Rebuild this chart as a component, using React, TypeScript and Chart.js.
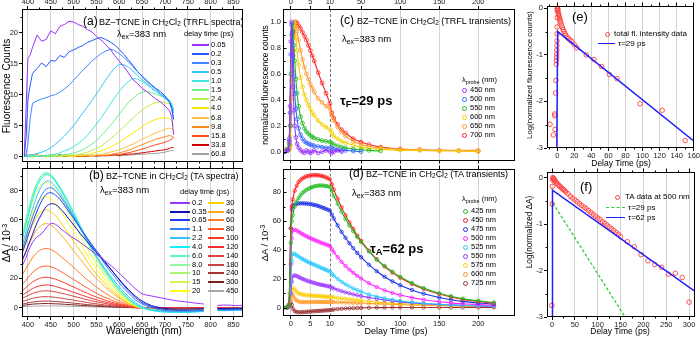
import React, { useEffect, useRef } from "react";
import { Chart, registerables } from "chart.js";

Chart.register(...registerables);

const FONT = "'Liberation Sans', Arial, Helvetica, sans-serif";
const GRID = "#d2d2d2";

// ---------------- (a) TRFL spectra ----------------
const WL_A = [392, 396, 400, 405, 410, 420, 430, 440, 450, 460, 470, 480, 490, 500, 510, 520, 530, 540, 550, 560, 570, 580, 590, 600, 610, 620, 630, 640, 650, 660, 670, 680, 690, 700, 710, 715, 719];
const FL_005 = [0.3, 8, 15.8, 16.4, 17.6, 19.6, 18.6, 18.9, 20.3, 19.8, 21.0, 21.3, 21.8, 21.7, 21.3, 21.0, 20.5, 20.1, 19.4, 18.8, 18.1, 17.3, 16.3, 15.4, 14.5, 13.5, 12.4, 11.8, 11.0, 10.5, 9.9, 9.3, 8.8, 8.2, 7.4, 6.4, 3.5];
const FL_02 = [0, 3.2, 9.2, 11.6, 13.4, 14.2, 15.1, 14.5, 15.5, 15.4, 16.3, 16.0, 16.9, 17.2, 17.6, 17.9, 18.4, 18.7, 19.0, 19.2, 18.9, 18.5, 18.0, 17.3, 16.5, 15.6, 14.7, 13.7, 13.0, 12.3, 11.6, 11.0, 10.5, 9.8, 8.9, 7.8, 6.0];
const FL_03 = [0, 0.4, 2.0, 6.2, 8.6, 9.0, 9.3, 9.5, 9.8, 10.0, 10.4, 10.9, 11.5, 12.3, 13.1, 13.9, 14.6, 15.4, 16.0, 16.6, 17.0, 17.3, 17.1, 16.6, 16.0, 15.3, 14.5, 13.7, 12.9, 12.1, 11.5, 10.9, 10.2, 9.6, 8.7, 7.6, 6.0];
const FL_05 = [0, 0.1, 0.2, 0.3, 0.3, 0.5, 0.7, 1.0, 1.4, 2.0, 2.6, 3.3, 4.1, 5.0, 6.0, 7.0, 8.0, 9.0, 10.1, 11.2, 12.3, 13.4, 14.3, 14.9, 14.8, 14.4, 13.8, 13.1, 12.4, 11.8, 11.2, 10.6, 10.0, 9.4, 8.8, 8.1, 7.0];
const FL_10 = [0, 0, 0.1, 0, 0.1, 0, 0.1, 0.1, 0.3, 0.4, 0.6, 0.9, 1.2, 1.6, 2.1, 2.7, 3.4, 4.3, 5.2, 6.2, 7.3, 8.4, 9.5, 10.5, 11.4, 12.1, 12.6, 12.5, 12.1, 11.6, 11.0, 10.5, 10.0, 9.6, 9.0, 8.3, 7.5];
const FL_15 = [0.2, 0, 0.1, -0.1, 0.2, 0, 0.1, 0.2, 0, 0.1, 0.2, 0.3, 0.4, 0.6, 0.8, 1.1, 1.5, 2.0, 2.6, 3.3, 4.1, 5.0, 5.9, 6.9, 7.8, 8.7, 9.4, 10.0, 10.4, 10.5, 10.3, 10.1, 9.8, 9.4, 9.0, 8.5, 7.5];
const FL_24 = [0.1, 0.3, 0, 0.2, -0.1, 0.1, 0.2, 0, 0.1, 0.2, 0, 0.1, 0.2, 0.2, 0.3, 0.5, 0.7, 1.0, 1.3, 1.7, 2.2, 2.8, 3.4, 4.1, 4.8, 5.5, 6.2, 6.9, 7.5, 8.0, 8.4, 8.7, 8.8, 8.7, 8.5, 8.0, 7.0];
const FL_40 = [0.2, 0, 0.3, 0.1, 0, 0.2, 0.1, -0.1, 0.2, 0, 0.1, 0.2, 0, 0.1, 0.2, 0.1, 0.3, 0.5, 0.7, 0.9, 1.2, 1.5, 1.9, 2.3, 2.8, 3.3, 3.8, 4.3, 4.8, 5.3, 5.7, 6.0, 6.2, 6.3, 6.1, 5.8, 5.0];
const FL_68 = [0, 0.2, 0.1, 0.3, 0, 0.1, 0.2, 0, 0.1, 0.3, 0, 0.2, 0.1, 0, 0.2, 0.1, 0.2, 0.1, 0.3, 0.3, 0.5, 0.7, 0.9, 1.1, 1.4, 1.7, 2.0, 2.4, 2.8, 3.1, 3.5, 3.8, 4.1, 4.4, 4.6, 4.5, 4.2];
const FL_98 = [0.3, 0.1, 0, 0.2, 0.3, 0, 0.2, 0.1, 0.3, 0, 0.2, 0.1, 0, 0.2, 0.1, 0.3, 0, 0.2, 0.1, 0.2, 0.2, 0.3, 0.5, 0.6, 0.8, 1.0, 1.3, 1.6, 1.9, 2.2, 2.5, 2.8, 3.0, 3.2, 3.4, 3.3, 3.0];
const FL_158 = [0.1, 0.3, 0.2, 0, 0.1, 0.3, 0, 0.2, 0.1, 0.2, 0, 0.3, 0.1, 0.2, 0, 0.1, 0.3, 0.1, 0.2, 0.1, 0.2, 0.2, 0.3, 0.3, 0.5, 0.6, 0.8, 1.0, 1.2, 1.4, 1.7, 1.9, 2.1, 2.3, 2.6, 2.8, 3.2];
const FL_338 = [0.2, 0, 0.1, 0.3, 0.1, 0.2, 0, 0.1, 0.2, 0.1, 0.3, 0, 0.2, 0.1, 0.2, 0, 0.1, 0.2, 0.1, 0.2, 0.1, 0.2, 0.3, 0.2, 0.3, 0.4, 0.4, 0.5, 0.6, 0.7, 0.8, 0.9, 1.0, 1.1, 1.3, 1.5, 1.4];
const FL_608 = [0, 0.1, 0, 0.2, 0, 0.1, 0, 0.1, 0, 0.1, 0.2, 0, 0.1, 0, 0.1, 0.2, 0, 0.1, 0, 0.1, 0.2, 0.1, 0.2, 0.1, 0.2, 0.2, 0.3, 0.3, 0.4, 0.4, 0.5, 0.5, 0.6, 0.7, 0.9, 1.0, 0.9];
const A_SERIES = [FL_005, FL_02, FL_03, FL_05, FL_10, FL_15, FL_24, FL_40, FL_68, FL_98, FL_158, FL_338, FL_608];
const A_LABELS = ["0.05", "0.2", "0.3", "0.5", "1.0", "1.5", "2.4", "4.0", "6.8", "9.8", "15.8", "33.8", "60.8"];
const A_COLORS = ["#9b30ff", "#1f5bff", "#3d8bff", "#33c4ff", "#3de8dd", "#6ef08a", "#b8f04a", "#f5ea00", "#ffc040", "#ff8c1a", "#ff4a1a", "#d00000", "#a0a0a0"];

// ---------------- (b) TA spectra ----------------
const WL_B = [388, 395, 400, 410, 420, 430, 440, 450, 460, 470, 480, 490, 500, 515, 530, 545, 560, 575, 590, 605, 620, 635, 650, 670, 690, 710, 730, 750, 770, 785, 800, 815, 835, 855, 871];
const ta_0p2 = [29, 33.5, 38, 44.5, 48.5, 50.5, 54.5, 57.5, 57, 54.5, 52, 49.5, 47.5, 44.5, 41, 37.5, 34, 30.5, 26.5, 22, 17.5, 13, 9.5, 8, 6.8, 5.5, 4.5, 3.8, 3, 2.5, null, 1.5, 1.8, 1.4, 1.6];
const ta_0p35 = [33, 38, 42, 50, 58, 64, 69, 71, 70.5, 68, 64.5, 60.5, 56.5, 50.5, 45, 39.5, 34, 28.5, 23, 17.5, 12.5, 8, 4.5, 1.5, 0, -0.8, -1, -1, -0.8, -0.8, null, -0.5, -0.6, -0.4, -0.5];
const ta_0p65 = [38, 44, 49, 58, 66, 73, 77.5, 78.6, 77, 74, 70, 65.5, 61, 54, 47.5, 41, 35, 29, 23, 17, 11.5, 7, 3.5, 0.8, -0.8, -1.5, -1.8, -1.8, -1.6, -1.5, null, -1, -1.1, -0.9, -1];
const ta_1p1 = [40, 47, 52.5, 62, 70.5, 77, 81, 82, 80, 76.5, 72, 67, 62, 54.5, 47, 40, 33.5, 27, 21, 15, 10, 5.5, 2.5, 0, -1.5, -2.2, -2.4, -2.4, -2.2, -2, null, -1.5, -1.6, -1.4, -1.4];
const ta_2p2 = [43, 51, 57, 67.5, 76.5, 83, 86.5, 86, 83, 78.5, 73.5, 68, 62.5, 54, 45.5, 37.5, 30.5, 24, 18, 12.5, 7.5, 3.5, 0.8, -1.3, -2.3, -2.8, -2.9, -2.9, -2.6, -2.4, null, -1.8, -1.9, -1.6, -1.6];
const ta_4p0 = [47, 56, 62.5, 74, 83, 88.5, 91, 90, 86.5, 81.5, 76.5, 70.5, 64.5, 55, 46, 37.5, 30, 23, 16.5, 11, 6.2, 2.5, 0, -1.8, -2.8, -3.1, -3.2, -3.2, -2.9, -2.7, null, -2, -2.1, -1.8, -1.8];
const ta_6p0 = [49, 58.5, 65.5, 76.5, 85, 90.5, 92.4, 91, 87.5, 82.5, 77.5, 71.5, 65.5, 56, 46.5, 38, 30, 23, 16.5, 10.8, 6, 2.3, -0.2, -1.8, -2.7, -3, -3.1, -3.1, -2.8, -2.6, null, -2, -2, -1.7, -1.7];
const ta_8p0 = [50, 59.5, 66, 77, 85.5, 90.5, 92, 90.5, 87, 82, 76.5, 70.5, 64.5, 55, 45.5, 37, 29, 22, 15.5, 10, 5.5, 2, -0.3, -1.7, -2.5, -2.8, -2.9, -2.9, -2.6, -2.4, null, -1.8, -1.8, -1.5, -1.5];
const ta_10 = [50, 59, 65.5, 76.5, 85, 90, 91.3, 89.5, 86, 81, 75.5, 69.5, 63.5, 54, 44.5, 36, 28, 21, 15, 9.5, 5, 1.8, -0.3, -1.6, -2.3, -2.6, -2.7, -2.6, -2.4, -2.2, null, -1.6, -1.7, -1.4, -1.4];
const ta_15 = [47, 55.5, 61.5, 72, 80, 84.5, 85.5, 84, 80.5, 75.5, 70, 64, 58.5, 49.5, 40.5, 32.5, 25.5, 19, 13.5, 8.5, 4.5, 1.5, -0.3, -1.4, -2, -2.3, -2.3, -2.2, -2, -1.9, null, -1.4, -1.4, -1.2, -1.2];
const ta_20 = [42, 49.5, 55, 64, 71, 75, 76, 74.5, 71.5, 67, 62, 57, 52, 44, 36, 28.5, 22.5, 16.5, 11.5, 7.5, 3.8, 1.2, -0.3, -1.2, -1.8, -2, -2, -1.9, -1.8, -1.7, null, -1.2, -1.2, -1, -1];
const ta_30 = [37, 43.5, 48.5, 56.5, 62.5, 66, 67, 65.5, 63, 59, 54.5, 50, 45.5, 38.5, 31.5, 25, 19.5, 14.5, 10, 6.3, 3.2, 1, -0.3, -1, -1.5, -1.7, -1.7, -1.6, -1.5, -1.4, null, -1, -1, -0.9, -0.9];
const ta_40 = [32, 37.5, 41.5, 48.5, 53.5, 56.5, 57.5, 56.5, 54, 50.5, 47, 43, 39, 33, 27, 21.5, 16.8, 12.5, 8.6, 5.4, 2.7, 0.8, -0.3, -0.9, -1.3, -1.4, -1.4, -1.4, -1.3, -1.2, null, -0.9, -0.9, -0.8, -0.8];
const ta_60 = [22.5, 26.5, 29, 34, 37.7, 39.8, 40.5, 39.8, 38, 35.5, 33, 30.2, 27.5, 23.2, 19, 15.2, 11.8, 8.8, 6, 3.8, 1.9, 0.5, -0.3, -0.7, -0.9, -1, -1, -1, -0.9, -0.9, null, -0.6, -0.6, -0.5, -0.5];
const ta_80 = [16, 18.5, 20.5, 24, 26.5, 28, 28.5, 28, 26.8, 25, 23.2, 21.2, 19.3, 16.3, 13.4, 10.7, 8.3, 6.2, 4.2, 2.7, 1.3, 0.3, -0.3, -0.5, -0.7, -0.7, -0.7, -0.7, -0.7, -0.6, null, -0.4, -0.4, -0.4, -0.4];
const ta_100 = [11.5, 13.5, 15, 17.5, 19.3, 20.4, 20.8, 20.4, 19.5, 18.3, 17, 15.5, 14.1, 11.9, 9.8, 7.8, 6.1, 4.5, 3.1, 2, 1, 0.2, -0.2, -0.4, -0.5, -0.5, -0.5, -0.5, -0.5, -0.4, null, -0.3, -0.3, -0.3, -0.3];
const ta_120 = [8.6, 10, 11.1, 13, 14.4, 15.2, 15.5, 15.2, 14.5, 13.6, 12.6, 11.6, 10.5, 8.9, 7.3, 5.8, 4.5, 3.4, 2.3, 1.5, 0.7, 0.1, -0.2, -0.3, -0.4, -0.4, -0.4, -0.4, -0.4, -0.3, null, -0.3, -0.3, -0.2, -0.2];
const ta_140 = [6.4, 7.5, 8.3, 9.7, 10.7, 11.3, 11.5, 11.3, 10.8, 10.1, 9.4, 8.6, 7.8, 6.6, 5.4, 4.3, 3.4, 2.5, 1.7, 1.1, 0.5, 0.1, -0.1, -0.2, -0.3, -0.3, -0.3, -0.3, -0.3, -0.2, null, -0.2, -0.2, -0.2, -0.2];
const ta_180 = [4.2, 4.9, 5.4, 6.3, 7, 7.4, 7.5, 7.4, 7, 6.6, 6.1, 5.6, 5.1, 4.3, 3.5, 2.8, 2.2, 1.6, 1.1, 0.7, 0.3, 0, -0.1, -0.1, -0.2, -0.2, -0.2, -0.2, -0.2, -0.1, null, -0.1, -0.1, -0.1, -0.1];
const ta_240 = [2.5, 2.9, 3.2, 3.8, 4.2, 4.4, 4.5, 4.4, 4.2, 4, 3.7, 3.4, 3.1, 2.6, 2.1, 1.7, 1.3, 1, 0.7, 0.4, 0.2, 0, 0, -0.1, -0.1, -0.1, -0.1, -0.1, -0.1, -0.1, null, 0, -0.1, 0, 0];
const ta_300 = [1.6, 1.8, 2, 2.4, 2.6, 2.75, 2.8, 2.75, 2.6, 2.5, 2.3, 2.1, 1.9, 1.6, 1.3, 1.1, 0.8, 0.6, 0.4, 0.3, 0.1, 0, 0, 0, 0, 0, 0, 0, 0, 0, null, 0, 0, 0, 0];
const ta_450 = [0.7, 0.8, 0.9, 1, 1.1, 1.2, 1.2, 1.2, 1.1, 1.1, 1, 0.9, 0.8, 0.7, 0.6, 0.5, 0.4, 0.3, 0.2, 0.1, 0, 0, 0, 0, 0, 0, 0, 0, 0, 0, null, 0, 0, 0, 0];
const B_SERIES = [ta_0p2, ta_0p35, ta_0p65, ta_1p1, ta_2p2, ta_4p0, ta_6p0, ta_8p0, ta_10, ta_15, ta_20, ta_30, ta_40, ta_60, ta_80, ta_100, ta_120, ta_140, ta_180, ta_240, ta_300, ta_450];
const B_LABELS = ["0.2", "0.35", "0.65", "1.1", "2.2", "4.0", "6.0", "8.0", "10", "15", "20", "30", "40", "60", "80", "100", "120", "140", "180", "240", "300", "450"];
const B_COLORS = ["#9933ff", "#1010b8", "#1f3ff0", "#2f7fff", "#38c0ff", "#10f0ff", "#60f5c8", "#95f5a0", "#aaf570", "#d6f550", "#ffff10", "#ffd000", "#ffa820", "#ff7a28", "#ff5a2a", "#ff3a20", "#ee3030", "#dd4040", "#c84545", "#a83535", "#7a2020", "#a8a8a8"];

const WL_TICKS = [400, 450, 500, 550, 600, 650, 700, 750, 800, 850];
const WL_MINOR = [425, 475, 525, 575, 625, 675, 725, 775, 825];

// ---------------- (c) TRFL transients ----------------
const TC = [-1.5, -0.8, -0.4, -0.2, 0, 0.2, 0.4, 0.6, 0.8, 1.0, 1.3, 1.6, 2.0, 2.5, 3.0, 3.5, 4.0, 4.5, 5.0, 5.5, 6.0, 7, 8, 9, 10, 12.5, 15, 20, 25, 30, 40, 50, 60, 75, 100, 125, 150, 175, 200];
const FLK_450 = [0, 0.01, 0.08, 0.35, 0.85, 1.0, 0.75, 0.5, 0.32, 0.2, 0.11, 0.06, 0.03, 0.01, 0, -0.01, 0.01, 0, -0.01, 0, 0.01, -0.01, 0, 0.01, 0, -0.01, 0, 0.01, 0, null, null, null, null, null, null, null, null, null, null];
const FLK_500 = [0, 0.02, 0.1, 0.3, 0.75, 0.98, 0.92, 0.74, 0.58, 0.45, 0.33, 0.25, 0.18, 0.13, 0.1, 0.08, 0.07, 0.06, 0.055, 0.05, 0.045, 0.04, 0.035, 0.03, 0.03, 0.025, 0.02, 0.015, 0.01, 0.01, 0.005, 0, null, null, null, null, null, null, null];
const FLK_550 = [0, 0.01, 0.06, 0.2, 0.6, 0.9, 0.99, 0.93, 0.82, 0.7, 0.56, 0.45, 0.35, 0.27, 0.22, 0.18, 0.155, 0.14, 0.125, 0.115, 0.105, 0.095, 0.085, 0.08, 0.075, 0.065, 0.055, 0.045, 0.035, 0.03, 0.02, 0.015, 0.01, 0.005, null, null, null, null, null];
const FLK_600 = [0.01, 0.01, 0.04, 0.12, 0.4, 0.7, 0.88, 0.97, 0.99, 0.96, 0.88, 0.78, 0.67, 0.57, 0.5, 0.44, 0.4, 0.36, 0.33, 0.3, 0.28, 0.24, 0.21, 0.19, 0.17, 0.145, 0.12, 0.1, 0.08, 0.07, 0.05, 0.035, 0.025, 0.02, 0.01, 0.01, 0.005, 0.005, 0];
const FLK_650 = [0.02, 0.01, 0.03, 0.08, 0.3, 0.55, 0.75, 0.88, 0.96, 1.0, 0.98, 0.93, 0.86, 0.78, 0.71, 0.65, 0.6, 0.56, 0.52, 0.49, 0.46, 0.41, 0.38, 0.35, 0.33, 0.28, 0.24, 0.19, 0.15, 0.12, 0.08, 0.055, 0.04, 0.03, 0.02, 0.015, 0.01, 0.01, 0.01];
const FLK_700 = [0, 0.01, 0.02, 0.05, 0.2, 0.42, 0.62, 0.78, 0.9, 0.97, 1.0, 0.99, 0.97, 0.95, 0.92, 0.89, 0.86, 0.82, 0.78, 0.74, 0.7, 0.61, 0.53, 0.45, 0.37, 0.3, 0.26, 0.21, 0.17, 0.145, 0.1, 0.075, 0.055, 0.035, 0.02, 0.015, 0.01, 0.008, 0.005];
const C_SERIES = [FLK_450, FLK_500, FLK_550, FLK_600, FLK_650, FLK_700];
const C_LABELS = ["450 nm", "500 nm", "550 nm", "600 nm", "650 nm", "700 nm"];
const C_COLORS = ["#9933ff", "#3366ff", "#22bb22", "#f2d000", "#ff9933", "#ff2222"];

// ---------------- (d) TA transients ----------------
const TD = [-2, -1, -0.5, 0, 0.25, 0.5, 1, 1.5, 2, 2.5, 3, 3.5, 4, 4.5, 5, 5.5, 6, 6.5, 7, 7.5, 8, 8.5, 9, 9.5, 10, 12.5, 15, 20, 25, 30, 35, 40, 45, 50, 60, 70, 80, 90, 100, 115, 130, 150, 165, 180, 200, 220];
const TAK_425 = [0, 0.3, 1.5, 45, 60, 64, 70, 73.5, 76, 78, 79.5, 80.7, 81.6, 82.4, 83, 83.5, 84, 84.3, 84.5, 84.6, 84.6, 84.5, 84.3, 84, 83.5, 81, 77.5, 72, 66.5, 61.5, 57, 53, 49, 45.5, 39, 33.3, 29, 25, 21.5, 17.2, 13.6, 10, 8, 6.3, 4.8, 3.6];
const TAK_450 = [0, 0.3, 2, 55, 70, 75, 81, 84.5, 87, 88.5, 89.5, 90.3, 91, 91.3, 91.6, 91.7, 91.8, 91.8, 91.7, 91.5, 91.2, 90.8, 90.3, 89.6, 88.8, 85.5, 81.8, 75.5, 69.5, 64, 59, 54.5, 50, 46.3, 39.5, 33.5, 28.5, 24.3, 20.8, 16.5, 13, 9.5, 7.5, 5.8, 4.3, 3.2];
const TAK_475 = [0, 0.3, 2, 55, 68, 70.5, 71.5, 72, 72.2, 72.3, 72.3, 72.2, 72.1, 72, 71.8, 71.5, 71.2, 70.9, 70.5, 70, 69.5, 69, 68.4, 67.8, 67.2, 64.5, 61.8, 57, 52.5, 48.5, 44.7, 41.2, 38, 35, 29.8, 25.3, 21.5, 18.3, 15.6, 12.3, 9.7, 7.1, 5.6, 4.4, 3.3, 2.5];
const TAK_500 = [0, 0.2, 1, 30, 48, 53.5, 54, 53.5, 52.6, 51.8, 51, 50.2, 49.5, 48.8, 48.2, 47.6, 47, 46.4, 45.9, 45.3, 44.8, 44.3, 43.8, 43.3, 42.8, 40.5, 38.5, 35, 31.8, 29, 26.5, 24.2, 22.2, 20.3, 17, 14.3, 12.1, 10.3, 8.8, 7, 5.6, 4.2, 3.4, 2.8, 2.2, 1.7];
const TAK_525 = [0, 0.2, 1, 18, 32, 37.5, 37.2, 36.3, 35.4, 34.5, 33.7, 33, 32.3, 31.6, 31, 30.4, 29.8, 29.2, 28.6, 28, 27.4, 26.8, 26.2, 25.6, 25, 23.5, 22.2, 20, 18, 16.3, 14.8, 13.4, 12.2, 11.1, 9.2, 7.7, 6.5, 5.5, 4.7, 3.8, 3.1, 2.4, 2, 1.7, 1.4, 1.1];
const TAK_550 = [0, 0.1, 0.8, 10, 18, 21.8, 22.5, 22, 21.3, 20.6, 20, 19.4, 18.9, 18.4, 18, 17.6, 17.2, 16.8, 16.4, 16.1, 15.8, 15.5, 15.2, 14.9, 14.6, 14, 13.4, 12.4, 11.5, 10.7, 10, 9.3, 8.7, 8.1, 7.1, 6.2, 5.4, 4.7, 4.1, 3.4, 2.8, 2.2, 1.9, 1.6, 1.3, 1.1];
const TAK_575 = [0, 0.1, 0.6, 7, 12, 14, 12.5, 11, 10, 9.5, 9.1, 8.9, 8.7, 8.6, 8.5, 8.4, 8.3, 8.2, 8.1, 8, 7.9, 7.8, 7.7, 7.6, 7.5, 7.3, 7.1, 6.8, 6.5, 6.2, 5.9, 5.6, 5.3, 5, 4.5, 4, 3.6, 3.2, 2.9, 2.5, 2.1, 1.7, 1.5, 1.3, 1.1, 0.9];
const TAK_600 = [0, 0.1, 0.5, 5, 8.5, 8.8, 6.5, 5, 4.3, 4, 3.9, 3.9, 3.9, 3.9, 4, 4, 4, 4, 4, 4, 4, 4, 4, 4, 4, 4, 3.9, 3.8, 3.7, 3.6, 3.5, 3.4, 3.3, 3.2, 3, 2.8, 2.6, 2.4, 2.2, 1.9, 1.7, 1.4, 1.3, 1.1, 1, 0.9];
const TAK_725 = [0, 0, 0.5, 3.5, 2, -0.5, -2.3, -2.9, -3.1, -3.1, -3, -2.9, -2.8, -2.7, -2.6, -2.5, -2.4, -2.3, -2.2, -2.1, -2, -1.9, -1.8, -1.7, -1.6, -1.4, -1.2, -0.9, -0.7, -0.5, -0.4, -0.3, -0.2, -0.1, 0, 0.1, 0.1, 0.2, 0.2, 0.2, 0.2, 0.2, 0.2, 0.2, 0.2, 0.2];
const D_SERIES = [TAK_425, TAK_450, TAK_475, TAK_500, TAK_525, TAK_550, TAK_575, TAK_600, TAK_725];
const D_LABELS = ["425 nm", "450 nm", "475 nm", "500 nm", "525 nm", "550 nm", "575 nm", "600 nm", "725 nm"];
const D_COLORS = ["#22bb22", "#ff1a1a", "#1a2ee6", "#ff22ff", "#22c8ff", "#9933ff", "#ffcc00", "#ff9922", "#993333"];

const T_TICKS = [0, 5, 10, 50, 100, 150, 200];

// ---------------- (e) log total fluorescence ----------------
const E_T = [-8.5, -4.5, -3, -2.8, -2.6, -1.8, -1.5, -1.2, -1.0, -0.8, -0.6, -0.5, -0.4, -0.3, -0.2, -0.1, 0, 0.1, 0.2, 0.3, 0.5, 0.8, 1.2, 1.6, 2, 2.5, 3, 3.5, 4, 5, 6, 7, 8, 9, 10, 11.5, 13, 15, 17, 20, 23, 34, 43, 52, 61, 70, 97, 123, 150];
const E_V = [-2.49, -2.72, -2.27, -2.31, -2.6, -1.82, -1.55, -1.2, -1.12, -1.05, -0.98, -0.9, -0.8, -0.7, -0.55, -0.4, -0.2, -0.05, 0, 0, -0.02, -0.05, -0.09, -0.13, -0.16, -0.2, -0.24, -0.27, -0.3, -0.36, -0.41, -0.46, -0.5, -0.54, -0.58, -0.62, -0.65, -0.68, -0.71, -0.78, -0.85, -1.0, -1.1, -1.25, -1.42, -1.51, -2.05, -2.19, -2.84];
const E_FIT_T = [-0.5, 0.5, 160];
const E_FIT_V = [-3, -0.5, -2.85];

// ---------------- (f) log TA at 500 nm ----------------
const F_T = [-0.5, 0.5, 1, 1.5, 2, 3, 4, 5, 6, 8, 10, 12.5, 15, 17.5, 20, 22.5, 25, 27.5, 30, 35, 40, 45, 50, 55, 60, 65, 70, 75, 80, 85, 90, 95, 100, 105, 110, 115, 120, 125, 130, 135, 140, 145, 150, 165, 180, 195, 210, 225, 240, 255, 270, 285, 300];
const F_V = [-2.75, -0.57, -0.19, -0.05, 0, -0.02, -0.03, -0.05, -0.06, -0.09, -0.12, -0.14, -0.17, -0.19, -0.22, -0.24, -0.26, -0.28, -0.31, -0.35, -0.4, -0.44, -0.48, -0.52, -0.56, -0.6, -0.64, -0.67, -0.71, -0.75, -0.79, -0.83, -0.87, -0.9, -0.95, -0.98, -1.02, -1.06, -1.1, -1.14, -1.18, -1.22, -1.27, -1.38, -1.49, -1.66, -1.79, -1.87, -1.93, -2.08, -2.06, -2.15, -2.68];
const F_FIT62_T = [0, 1, 313];
const F_FIT62_V = [-3, -0.27, -2.45];
const F_FIT29_T = [2, 160];
const F_FIT29_V = [-0.55, -3];

// ---------------- helpers ----------------
const tx = (t: number) => (t <= 10 ? t : 10 + (t - 10) / 5);
const itx = (v: number) => (v <= 10 ? v : 10 + (v - 10) * 5);

type Geo = { L: number; T: number; R: number; B: number; ml: number; mt: number; mb: number; mr: number };
const GA: Geo = { L: 22, T: 9, R: 243, B: 163, ml: 22, mt: 9, mb: 4, mr: 2 };
const GB: Geo = { L: 22, T: 166, R: 243, B: 317, ml: 22, mt: 4, mb: 16, mr: 2 };
const GC: Geo = { L: 283, T: 9, R: 515, B: 163, ml: 26, mt: 9, mb: 4, mr: 2 };
const GD: Geo = { L: 283, T: 166, R: 515, B: 316, ml: 26, mt: 4, mb: 16, mr: 2 };
const GE: Geo = { L: 547, T: 4, R: 694, B: 148, ml: 20, mt: 4, mb: 13, mr: 6 };
const GF: Geo = { L: 547, T: 170, R: 695, B: 317, ml: 20, mt: 4, mb: 14, mr: 5 };

type Decor = { minorX?: number[]; minorY?: number[]; inY?: number[]; inYm?: number[]; dashX?: number[] };

function decorPlugin(o: Decor) {
  return {
    id: "decor",
    beforeDatasetsDraw(chart: any) {
      if (!o.dashX) return;
      const { ctx, chartArea: a, scales } = chart;
      ctx.save();
      ctx.strokeStyle = "#555";
      ctx.lineWidth = 0.8;
      ctx.setLineDash([3, 2]);
      for (const v of o.dashX) {
        const x = Math.round(scales.x.getPixelForValue(v)) + 0.5;
        ctx.beginPath();
        ctx.moveTo(x, a.top);
        ctx.lineTo(x, a.bottom);
        ctx.stroke();
      }
      ctx.restore();
    },
    afterDraw(chart: any) {
      const { ctx, chartArea: a, scales } = chart;
      ctx.save();
      ctx.strokeStyle = "#000";
      ctx.lineWidth = 1;
      const L = Math.round(a.left) + 0.5;
      const R = Math.round(a.right) - 0.5;
      const Tp = Math.round(a.top) + 0.5;
      const Bt = Math.round(a.bottom) - 0.5;
      ctx.strokeRect(L, Tp, R - L, Bt - Tp);
      ctx.beginPath();
      for (const v of o.minorX || []) {
        const x = Math.round(scales.x.getPixelForValue(v)) + 0.5;
        ctx.moveTo(x, Bt); ctx.lineTo(x, Bt + 2);
        ctx.moveTo(x, Tp); ctx.lineTo(x, Tp - 2);
      }
      for (const v of o.minorY || []) {
        const y = Math.round(scales.y.getPixelForValue(v)) + 0.5;
        ctx.moveTo(L, y); ctx.lineTo(L - 2, y);
      }
      for (const v of o.inY || []) {
        const y = Math.round(scales.y.getPixelForValue(v)) + 0.5;
        ctx.moveTo(L, y); ctx.lineTo(L + 3, y);
      }
      for (const v of o.inYm || []) {
        const y = Math.round(scales.y.getPixelForValue(v)) + 0.5;
        ctx.moveTo(L, y); ctx.lineTo(L + 2, y);
      }
      ctx.stroke();
      ctx.restore();
    },
  };
}

const tickFont = { size: 7.5, family: FONT };

function hAxis(position: string, min: number, max: number, ticks: number[], size: number, labels: boolean, gridOn: boolean, cb?: any, gridColor?: any) {
  return {
    type: "linear",
    position,
    min,
    max,
    afterBuildTicks: (s: any) => { s.ticks = ticks.map((v) => ({ value: v })); },
    afterFit: (s: any) => { s.height = size; },
    grid: { display: true, drawOnChartArea: gridOn, drawTicks: true, tickLength: 3, tickColor: "#000", tickWidth: 1, color: gridColor || GRID, lineWidth: 1 },
    border: { display: false },
    ticks: { display: labels, autoSkip: false, maxRotation: 0, padding: 0, color: "#222", font: tickFont, callback: cb || ((v: number) => String(v)) },
  };
}

function vAxis(min: number, max: number, ticks: number[], width: number, cb?: any, outward = true) {
  return {
    type: "linear",
    position: "left",
    min,
    max,
    afterBuildTicks: (s: any) => { s.ticks = ticks.map((v) => ({ value: v })); },
    afterFit: (s: any) => { s.width = width; },
    grid: { display: true, drawOnChartArea: false, drawTicks: outward, tickLength: 3, tickColor: "#000", tickWidth: 1 },
    border: { display: false },
    ticks: { autoSkip: false, padding: outward ? 1 : 2, color: "#222", font: tickFont, callback: cb || ((v: number) => String(v)) },
  };
}

function cfg(geo: Geo, datasets: any[], scales: any, d: Decor) {
  return {
    type: "line",
    data: { datasets },
    options: {
      responsive: false,
      animation: false,
      devicePixelRatio: 1,
      events: [],
      layout: { padding: { left: 0, top: 0, right: geo.mr, bottom: 0 }, autoPadding: false },
      plugins: { legend: { display: false }, tooltip: { enabled: false } },
      scales,
    },
    plugins: [decorPlugin(d)],
  };
}

const lineDS = (xs: number[], ys: (number | null)[], color: string, width: number, extra: any = {}) => ({
  data: xs.map((x, i) => ({ x, y: ys[i] })),
  borderColor: color,
  backgroundColor: color,
  borderWidth: width,
  pointRadius: 0,
  tension: 0,
  fill: false,
  ...extra,
});

const markDS = (ts: number[], ys: (number | null)[], color: string, r: number) => ({
  data: ts.map((t, i) => ({ x: tx(t), y: ys[i] })),
  borderColor: color,
  backgroundColor: color,
  borderWidth: 1.1,
  pointRadius: r,
  pointBorderWidth: 0.8,
  pointBorderColor: color,
  pointBackgroundColor: "rgba(255,255,255,0)",
  cubicInterpolationMode: "monotone",
  spanGaps: true,
  fill: false,
});

const hide10 = (c: any) => (c.tick && Math.abs(c.tick.value - 10) < 1e-6 ? "rgba(0,0,0,0)" : GRID);
const tLabel = (v: number) => String(Math.round(itx(v)));
const T_POS = T_TICKS.map(tx);

const makeA = () =>
  cfg(GA, A_SERIES.map((s, k) => lineDS(WL_A, s, A_COLORS[k], 1)), {
    x: hAxis("bottom", 387, 871, WL_TICKS, GA.mb, false, true),
    xt: hAxis("top", 387, 871, WL_TICKS, GA.mt, true, false),
    y: vAxis(-0.8, 23.8, [0, 5, 10, 15, 20], GA.ml),
  }, { minorX: WL_MINOR, minorY: [2.5, 7.5, 12.5, 17.5, 22.5] });

const makeB = () =>
  cfg(GB, B_SERIES.map((s, k) => lineDS(WL_B, s, B_COLORS[k], 1, { tension: 0.3 })), {
    x: hAxis("bottom", 387, 871, WL_TICKS, GB.mb, true, true),
    xt: hAxis("top", 387, 871, WL_TICKS, GB.mt, false, false),
    y: vAxis(-6.4, 95.8, [0, 20, 40, 60, 80], GB.ml),
  }, { minorX: WL_MINOR, minorY: [10, 30, 50, 70, 90] });

const makeC = () =>
  cfg(GC, C_SERIES.map((s, k) => markDS(TC, s, C_COLORS[k], 1.9)), {
    x: hAxis("bottom", -2, 57.4, T_POS, GC.mb, false, true, tLabel, hide10),
    xt: hAxis("top", -2, 57.4, T_POS, GC.mt, true, false, tLabel),
    y: vAxis(-0.068, 1.1, [0, 0.2, 0.4, 0.6, 0.8, 1.0], GC.ml, (v: number) => v.toFixed(1), false),
  }, { dashX: [10], inY: [0, 0.2, 0.4, 0.6, 0.8, 1.0], inYm: [0.1, 0.3, 0.5, 0.7, 0.9] });

const makeD = () =>
  cfg(GD, D_SERIES.map((s, k) => markDS(TD, s, D_COLORS[k], 1.7)), {
    x: hAxis("bottom", -2, 57.4, T_POS, GD.mb, true, true, tLabel, hide10),
    xt: hAxis("top", -2, 57.4, T_POS, GD.mt, false, false, tLabel),
    y: vAxis(-5.7, 96.4, [0, 20, 40, 60, 80], GD.ml, undefined, false),
  }, { dashX: [10], inY: [0, 20, 40, 60, 80], inYm: [10, 30, 50, 70, 90] });

const makeE = () =>
  cfg(GE, [
    lineDS(E_FIT_T, E_FIT_V, "#1f1fff", 1.5),
    {
      data: E_T.map((t, i) => ({ x: t, y: E_V[i] })),
      showLine: false,
      pointRadius: 2.3,
      pointBorderWidth: 0.9,
      pointBorderColor: "#ff4040",
      pointBackgroundColor: "rgba(255,255,255,0)",
    },
  ], {
    x: hAxis("bottom", -12, 160, [0, 20, 40, 60, 80, 100, 120, 140, 160], GE.mb, true, true),
    xt: hAxis("top", -12, 160, [0, 20, 40, 60, 80, 100, 120, 140, 160], GE.mt, false, false),
    y: vAxis(-3, 0.06, [0, -1, -2, -3], GE.ml),
  }, { minorX: [-10, 10, 30, 50, 70, 90, 110, 130, 150], minorY: [-0.5, -1.5, -2.5] });

const makeF = () =>
  cfg(GF, [
    lineDS(F_FIT62_T, F_FIT62_V, "#1f1fff", 1.5),
    lineDS(F_FIT29_T, F_FIT29_V, "#33cc33", 1.3, { borderDash: [3, 2] }),
    {
      data: F_T.map((t, i) => ({ x: t, y: F_V[i] })),
      showLine: false,
      pointRadius: 2.3,
      pointBorderWidth: 0.9,
      pointBorderColor: "#ff4040",
      pointBackgroundColor: "rgba(255,255,255,0)",
    },
  ], {
    x: hAxis("bottom", -11, 313, [0, 50, 100, 150, 200, 250, 300], GF.mb, true, true),
    xt: hAxis("top", -11, 313, [0, 50, 100, 150, 200, 250, 300], GF.mt, false, false),
    y: vAxis(-3, 0.13, [0, -1, -2, -3], GF.ml),
  }, { minorX: [25, 75, 125, 175, 225, 275], minorY: [-0.5, -1.5, -2.5] });

function ChartBox({ geo, make }: { geo: Geo; make: () => any }) {
  const ref = useRef<HTMLCanvasElement | null>(null);
  const w = geo.ml + (geo.R - geo.L) + geo.mr;
  const h = geo.mt + (geo.B - geo.T) + geo.mb;
  useEffect(() => {
    const c = new Chart(ref.current as any, make());
    return () => c.destroy();
  }, []);
  return (
    <canvas
      ref={ref}
      width={w}
      height={h}
      style={{ position: "absolute", left: geo.L - geo.ml, top: geo.T - geo.mt, width: w, height: h }}
    />
  );
}

const subS: any = { fontSize: "0.72em", verticalAlign: "-0.3em", lineHeight: 0 };
const supS: any = { fontSize: "0.72em", verticalAlign: "0.45em", lineHeight: 0 };
const Sb = ({ children }: any) => <span style={subS}>{children}</span>;
const Sp = ({ children }: any) => <span style={supS}>{children}</span>;

function Txt({ x, y, s, b = false, a = "l", r = false, c = "#000", children }: any) {
  let tf = a === "c" ? "translate(-50%,-50%)" : "translate(0,-50%)";
  if (r) tf = "translate(-50%,-50%) rotate(-90deg)";
  return (
    <div style={{ position: "absolute", left: x, top: y, transform: tf, fontSize: s, fontWeight: b ? 700 : 400, color: c, whiteSpace: "nowrap", lineHeight: 1 }}>
      {children}
    </div>
  );
}

function LineKey({ x, y, w, color, th = 2, dash = false }: any) {
  return (
    <div style={{ position: "absolute", left: x, top: y - th / 2, width: w, height: 0, borderTop: `${th}px ${dash ? "dashed" : "solid"} ${color}` }} />
  );
}

function Circ({ x, y, d = 5, color }: any) {
  return (
    <div style={{ position: "absolute", left: x - d / 2, top: y - d / 2, width: d - 2, height: d - 2, border: `1px solid ${color}`, borderRadius: "50%" }} />
  );
}

const TCNE = (
  <>
    BZ–TCNE in CH<Sb>2</Sb>Cl<Sb>2</Sb>
  </>
);

export default function App() {
  return (
    <div style={{ position: "fixed", left: 0, top: 0, width: 700, height: 337, background: "#fff", overflow: "hidden", fontFamily: FONT, color: "#000" }}>
      <ChartBox geo={GA} make={makeA} />
      <ChartBox geo={GB} make={makeB} />
      <ChartBox geo={GC} make={makeC} />
      <ChartBox geo={GD} make={makeD} />
      <ChartBox geo={GE} make={makeE} />
      <ChartBox geo={GF} make={makeF} />

      {/* (a) */}
      <Txt x={83} y={21} s={12}>(a)</Txt>
      <Txt x={99} y={22} s={9}>{TCNE} (TRFL spectra)</Txt>
      <Txt x={117} y={34} s={9.5}>λ<Sb>ex</Sb>=383 nm</Txt>
      <Txt x={7} y={86} s={10} r>Fluorescence Counts</Txt>
      <Txt x={184} y={34} s={7.5}>delay time (ps)</Txt>
      {A_LABELS.map((l, i) => (
        <React.Fragment key={"a" + i}>
          <LineKey x={192} y={44.7 + i * 9.11} w={17} color={A_COLORS[i]} />
          <Txt x={211} y={44.7 + i * 9.11} s={7.5}>{l}</Txt>
        </React.Fragment>
      ))}

      {/* (b) */}
      <Txt x={89} y={175} s={12}>(b)</Txt>
      <Txt x={106} y={176} s={9}>{TCNE} (TA spectra)</Txt>
      <Txt x={100} y={190} s={9.5}>λ<Sb>ex</Sb>=383 nm</Txt>
      <Txt x={7} y={243} s={10} r>ΔA / 10<Sp>-3</Sp></Txt>
      <Txt x={144} y={331} s={10} a="c">Wavelength (nm)</Txt>
      <Txt x={180} y={192} s={7.5}>delay time (ps)</Txt>
      {B_LABELS.map((l, i) => {
        const col = i < 11 ? 0 : 1;
        const row = i % 11;
        const y = 202.7 + row * 8.83;
        return (
          <React.Fragment key={"b" + i}>
            <LineKey x={col ? 208 : 170} y={y} w={col ? 16 : 20} color={B_COLORS[i]} />
            <Txt x={col ? 226 : 192} y={y} s={7.5}>{l}</Txt>
          </React.Fragment>
        );
      })}

      {/* (c) */}
      <Txt x={340} y={20} s={12}>(c)</Txt>
      <Txt x={357} y={21} s={9}>{TCNE} (TRFL transients)</Txt>
      <Txt x={342} y={39} s={9.5}>λ<Sb>ex</Sb>=383 nm</Txt>
      <Txt x={340} y={100} s={13} b>τ<Sb>F</Sb>=29 ps</Txt>
      <Txt x={265} y={85} s={8.5} r>normalized fluorescence counts</Txt>
      <Txt x={462} y={80} s={7.5}>λ<Sb>probe</Sb> (nm)</Txt>
      {C_LABELS.map((l, i) => (
        <React.Fragment key={"c" + i}>
          <Circ x={464} y={90 + i * 9.07} color={C_COLORS[i]} />
          <Txt x={470} y={90 + i * 9.07} s={7.5}>{l}</Txt>
        </React.Fragment>
      ))}

      {/* (d) */}
      <Txt x={349} y={173} s={12}>(d)</Txt>
      <Txt x={366} y={174} s={9}>{TCNE} (TA transients)</Txt>
      <Txt x={352} y={193} s={9.5}>λ<Sb>ex</Sb>=383 nm</Txt>
      <Txt x={370} y={248} s={13} b>τ<Sb>A</Sb>=62 ps</Txt>
      <Txt x={265} y={243} s={9.5} r>ΔA / 10<Sp>-3</Sp></Txt>
      <Txt x={396} y={331} s={9} a="c">Delay Time (ps)</Txt>
      <Txt x={462} y={199} s={7.5}>λ<Sb>probe</Sb> (nm)</Txt>
      {D_LABELS.map((l, i) => (
        <React.Fragment key={"d" + i}>
          <Circ x={465} y={211 + i * 9.0} color={D_COLORS[i]} />
          <Txt x={471} y={211 + i * 9.0} s={7.5}>{l}</Txt>
        </React.Fragment>
      ))}

      {/* (e) */}
      <Txt x={572} y={16} s={13}>(e)</Txt>
      <Txt x={530} y={75} s={7.8} r>Log(normalized fluorescence counts)</Txt>
      <Txt x={621} y={163} s={8.5} a="c">Delay Time (ps)</Txt>
      <Circ x={607} y={34} color="#ff4040" />
      <Txt x={614} y={34} s={8}>total fl. intensity data</Txt>
      <LineKey x={598} y={43.5} w={17} color="#1f1fff" th={1.5} />
      <Txt x={618} y={43.5} s={8}>τ=29 ps</Txt>

      {/* (f) */}
      <Txt x={580} y={186} s={13}>(f)</Txt>
      <Txt x={530} y={232} s={8.2} r>Log(normalized ΔA)</Txt>
      <Txt x={620} y={331} s={8.5} a="c">Delay Time (ps)</Txt>
      <Circ x={617} y={197} color="#ff4040" />
      <Txt x={625} y={197} s={8}>TA data at 500 nm</Txt>
      <LineKey x={606} y={208} w={19} color="#33cc33" th={1.5} dash />
      <Txt x={628} y={208} s={8}>τ=29 ps</Txt>
      <LineKey x={606} y={218} w={19} color="#1f1fff" th={1.5} />
      <Txt x={628} y={218} s={8}>τ=62 ps</Txt>
    </div>
  );
}
